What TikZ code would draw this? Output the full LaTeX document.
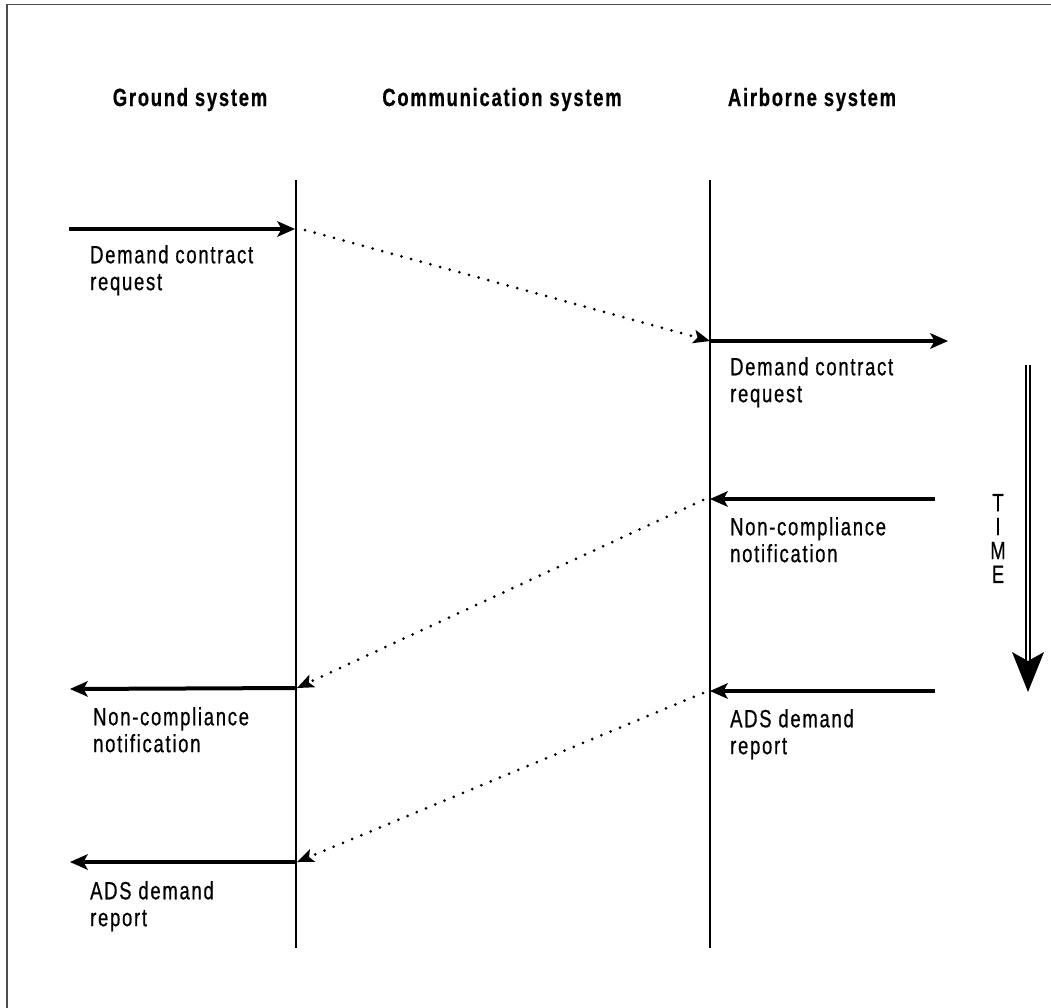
\documentclass[tikz,border=0pt]{standalone}
\usepackage{fontspec}
\setmainfont{Liberation Sans}[FakeStretch=0.74, LetterSpace=7, FakeBold=0.6]
\usetikzlibrary{arrows.meta}

\tikzset{
  frameline/.style={draw=black!70, line width=1.6bp},
  lifeline/.style={draw=black, line width=2bp},
  msg/.style={draw=black, line width=4bp,
    -{Stealth[length=18bp, width=16bp, inset=4.5bp, line width=0pt]}},
  relay/.style={draw=black, line width=3bp, line cap=round,
    dash pattern=on 0bp off 10bp,
    -{Stealth[length=17bp, width=14bp, inset=4bp, line width=0pt]}},
  header/.style={font=\fontsize{25}{27}\selectfont\bfseries, inner sep=0pt, anchor=base},
  lbl/.style={font=\fontsize{25}{27}\selectfont, align=left, inner sep=0pt, anchor=north west},
}

\begin{document}
\begin{tikzpicture}[x=1bp, y=-1bp]
  \useasboundingbox (0,0) rectangle (1051,1008);

  % frame (open towards the right and the bottom)
  \draw[frameline] (7,1008) -- (7,4.5) -- (1051,4.5);

  % column headings
  \node[header] (hground) at (190,106) {Ground system};
  \node[header] (hcomm)   at (502,106) {Communication system};
  \node[header] (hair)    at (812,106) {Airborne system};

  % lifelines
  \coordinate (gtop) at (296,180);
  \coordinate (gbot) at (296,948);
  \coordinate (atop) at (710,180);
  \coordinate (abot) at (710,948);
  \draw[lifeline] (gtop) -- (gbot);
  \draw[lifeline] (atop) -- (abot);

  % message end points
  \coordinate (gin)   at (69,229);
  \coordinate (g1)    at (295,229);
  \coordinate (d1s)   at (305,230);
  \coordinate (a1)    at (710,341);
  \coordinate (aout)  at (948,341);

  \coordinate (ain2)  at (935,499);
  \coordinate (a2)    at (710,499);
  \coordinate (d2s)   at (703,500);
  \coordinate (g2)    at (297,688);
  \coordinate (gout2) at (70,689);

  \coordinate (ain3)  at (935,691);
  \coordinate (a3)    at (710,691);
  \coordinate (d3s)   at (703,693);
  \coordinate (g3)    at (297,862);
  \coordinate (gout3) at (70,862);

  % demand contract request
  \draw[msg] (gin) -- (g1);
  \draw[relay] (d1s) -- (a1);
  \draw[msg] (a1) -- (aout);

  % non-compliance notification
  \draw[msg] (ain2) -- (a2);
  \draw[relay] (d2s) -- (g2);
  \draw[msg] (g2) -- (gout2);

  % ADS demand report
  \draw[msg] (ain3) -- (a3);
  \draw[relay] (d3s) -- (g3);
  \draw[msg] (g3) -- (gout3);

  % labels
  \node[lbl] (l1) at (90,245) {Demand contract\\request};
  \node[lbl] (l2) at (730,357) {Demand contract\\request};
  \node[lbl] (l3) at (730,517) {Non-compliance\\notification};
  \node[lbl] (l4) at (93,707) {Non-compliance\\notification};
  \node[lbl] (l5) at (730,709) {ADS demand\\report};
  \node[lbl] (l6) at (90,881) {ADS demand\\report};

  % time axis
  \coordinate (ttop) at (1028,365);
  \coordinate (tbase) at (1028,660);
  \coordinate (ttip) at (1028,692);
  \draw[line width=1.5bp, double, double distance=2.8bp] (ttop) -- (tbase);
  \fill[black] (1012,652) -- (ttip) -- (1044,652) -- (1028,661) -- cycle;
  \node[font=\fontsize{25}{24}\selectfont, align=center, inner sep=0pt] (time) at (998,538.5) {T\\I\\M\\E};
\end{tikzpicture}
\end{document}
